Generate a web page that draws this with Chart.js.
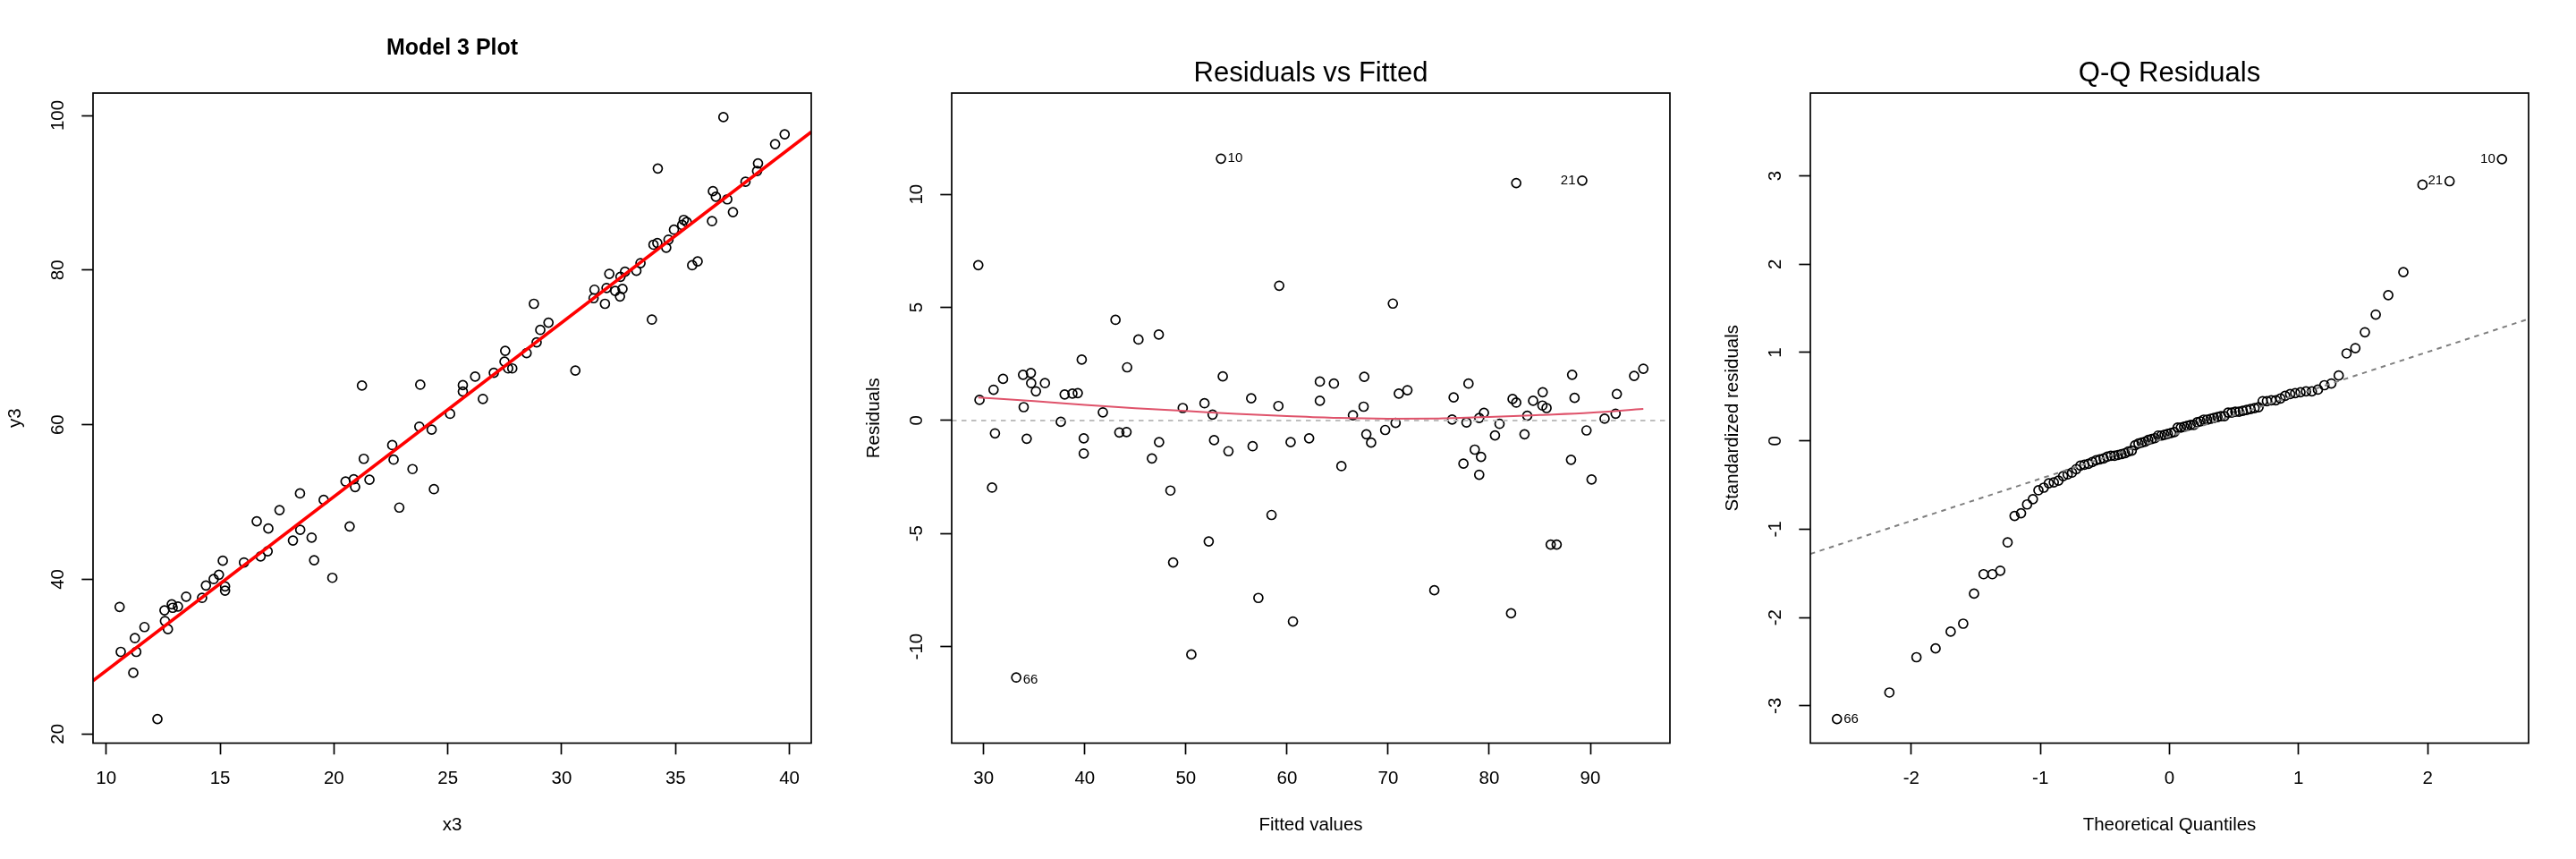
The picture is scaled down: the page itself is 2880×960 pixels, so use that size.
<!DOCTYPE html>
<html>
<head>
<meta charset="utf-8">
<title>Model 3 diagnostics</title>
<script src="https://cdn.jsdelivr.net/npm/chart.js@4.4.1/dist/chart.umd.min.js"></script>
<style>
  html, body { margin: 0; padding: 0; background: #fff; }
  #wrap { display: flex; width: 2880px; height: 960px; }
  canvas { display: block; }
</style>
</head>
<body>
<div id="wrap">
  <canvas id="fitPlot" width="960" height="960"></canvas>
  <canvas id="residPlot" width="960" height="960"></canvas>
  <canvas id="qqPlot" width="960" height="960"></canvas>
</div>
<script>
// ---- panel 1: x3 vs y3 (sorted by x3)
const x3 = [10.59, 10.64, 11.19, 11.26, 11.32, 11.68, 12.25, 12.56, 12.58, 12.71,
  12.88, 12.92, 13.15, 13.51, 14.21, 14.38, 14.72, 14.95, 15.12, 15.22,
  15.22, 16.05, 16.61, 16.78, 17.09, 17.12, 17.61, 18.20, 18.51, 18.52,
  19.02, 19.13, 19.55, 19.93, 20.51, 20.69, 20.87, 20.93, 21.23, 21.31,
  21.56, 22.56, 22.62, 22.87, 23.45, 23.75, 23.79, 24.29, 24.39, 25.10,
  25.66, 25.66, 26.20, 26.54, 27.02, 27.52, 27.49, 27.65, 27.83, 28.46,
  28.78, 28.90, 29.06, 29.42, 30.60, 31.40, 31.44, 31.90, 31.97, 32.09,
  32.35, 32.56, 32.67, 32.58, 32.78, 33.28, 33.46, 33.96, 34.03, 34.20,
  34.22, 34.59, 34.69, 34.93, 35.29, 35.36, 35.49, 35.73, 35.97, 36.60,
  36.64, 36.77, 37.10, 37.27, 37.52, 38.07, 38.58, 38.62, 39.37, 39.79];
const y3 = [36.43, 30.62, 27.91, 32.39, 30.62, 33.83, 21.93, 35.99, 34.61, 33.55,
  36.77, 36.32, 36.49, 37.76, 37.60, 39.20, 40.03, 40.59, 42.41, 39.09,
  38.54, 42.19, 47.51, 42.97, 43.63, 46.57, 48.95, 45.02, 51.11, 46.40,
  45.40, 42.47, 50.28, 40.20, 52.66, 46.84, 52.94, 51.94, 65.06, 55.59,
  52.88, 57.36, 55.48, 49.28, 54.26, 59.75, 65.17, 59.36, 51.66, 61.41,
  64.29, 65.12, 66.22, 63.34, 66.72, 69.55, 68.16, 67.28, 67.28, 69.27,
  75.64, 70.65, 72.26, 73.20, 67.00, 76.36, 77.46, 75.64, 77.69, 79.51,
  77.30, 76.58, 77.57, 79.13, 79.79, 79.90, 80.90, 73.59, 83.28, 83.50,
  93.13, 82.89, 83.94, 85.22, 85.83, 86.49, 86.21, 80.62, 81.12, 86.32,
  90.20, 89.48, 99.78, 89.15, 87.49, 91.42, 92.80, 93.80, 96.29, 97.56];
const fitXTicks = [10, 15, 20, 25, 30, 35, 40];
const fitYTicks = [20, 40, 60, 80, 100];

// ---- panel 2: residuals vs fitted
const fitted = [29.47, 29.59, 30.83, 30.98, 31.12, 31.92, 33.22, 33.90, 33.96, 34.26,
  34.67, 34.70, 35.17, 36.06, 37.63, 38.01, 38.78, 39.31, 39.70, 39.90,
  39.90, 41.79, 43.04, 43.42, 44.13, 44.19, 45.31, 46.64, 47.32, 47.35,
  48.47, 48.74, 49.69, 50.54, 51.84, 52.26, 52.64, 52.79, 53.47, 53.65,
  54.21, 56.46, 56.60, 57.17, 58.47, 59.15, 59.23, 60.36, 60.59, 62.19,
  63.25, 63.25, 64.64, 65.38, 66.52, 67.58, 67.64, 67.85, 68.32, 69.71,
  70.47, 70.74, 71.06, 71.91, 74.57, 76.33, 76.48, 77.45, 77.75, 77.95,
  78.57, 79.01, 79.01, 79.19, 79.48, 80.57, 81.02, 82.16, 82.31, 82.67,
  82.67, 83.49, 83.76, 84.34, 85.29, 85.26, 85.67, 86.08, 86.67, 88.09,
  88.20, 88.44, 89.20, 89.62, 90.12, 91.41, 92.50, 92.62, 94.33, 95.24];
const resid = [6.87, 0.91, -2.97, 1.36, -0.57, 1.84, -11.37, 2.02, 0.59, -0.81,
  2.10, 1.65, 1.29, 1.65, -0.06, 1.15, 1.19, 1.21, 2.69, -0.79,
  -1.46, 0.36, 4.45, -0.53, -0.51, 2.35, 3.58, -1.68, 3.80, -0.96,
  -3.10, -6.28, 0.55, -10.35, 0.76, -5.35, 0.26, -0.87, 11.58, 1.95,
  -1.36, 0.98, -1.14, -7.85, -4.18, 0.64, 5.96, -0.96, -8.89, -0.79,
  0.87, 1.72, 1.63, -2.02, 0.23, 0.61, 1.93, -0.61, -0.98, -0.42,
  5.17, -0.11, 1.19, 1.34, -7.51, 0.04, 1.02, -1.91, -0.09, 1.63,
  -1.29, 0.11, -2.40, -1.61, 0.34, -0.66, -0.15, -8.53, 0.95, 10.50,
  0.79, -0.61, 0.21, 0.87, 1.25, 0.66, 0.55, -5.49, -5.49, -1.74,
  2.02, 1.00, 10.61, -0.44, -2.61, 0.08, 0.30, 1.17, 1.97, 2.29];
const smoothX = [29.47, 35, 40, 45, 50, 55, 60, 65, 70, 75, 80, 85, 90, 95.24];
const smoothY = [1.02, 0.86, 0.69, 0.54, 0.42, 0.29, 0.19, 0.11, 0.08, 0.09, 0.15, 0.24, 0.34, 0.51];
const residXTicks = [30, 40, 50, 60, 70, 80, 90];
const residYTicks = [-10, -5, 0, 5, 10];

// ---- panel 3: normal Q-Q of standardized residuals
const qqX = [-2.576, -2.170, -1.960, -1.812, -1.695, -1.598, -1.514, -1.440, -1.372, -1.311,
  -1.254, -1.200, -1.150, -1.103, -1.058, -1.015, -0.974, -0.935, -0.896, -0.860,
  -0.824, -0.789, -0.755, -0.722, -0.690, -0.659, -0.628, -0.598, -0.568, -0.539,
  -0.510, -0.482, -0.454, -0.426, -0.399, -0.372, -0.345, -0.319, -0.292, -0.266,
  -0.240, -0.215, -0.189, -0.164, -0.138, -0.113, -0.088, -0.063, -0.038, -0.013,
  0.013, 0.038, 0.063, 0.088, 0.113, 0.138, 0.164, 0.189, 0.215, 0.240,
  0.266, 0.292, 0.319, 0.345, 0.372, 0.399, 0.426, 0.454, 0.482, 0.510,
  0.539, 0.568, 0.598, 0.628, 0.659, 0.690, 0.722, 0.755, 0.789, 0.824,
  0.860, 0.896, 0.935, 0.974, 1.015, 1.058, 1.103, 1.150, 1.200, 1.254,
  1.311, 1.372, 1.440, 1.514, 1.598, 1.695, 1.812, 1.960, 2.170, 2.576];
const qqY = [-3.15, -2.85, -2.45, -2.35, -2.16, -2.07, -1.73, -1.51, -1.51, -1.47,
  -1.15, -0.85, -0.82, -0.72, -0.66, -0.56, -0.53, -0.48, -0.47, -0.45,
  -0.40, -0.38, -0.36, -0.32, -0.28, -0.27, -0.26, -0.24, -0.22, -0.21,
  -0.20, -0.18, -0.17, -0.17, -0.16, -0.15, -0.14, -0.12, -0.11, -0.05,
  -0.03, -0.02, -0.01, 0.01, 0.02, 0.03, 0.06, 0.06, 0.07, 0.08,
  0.09, 0.10, 0.15, 0.15, 0.16, 0.17, 0.18, 0.18, 0.21, 0.22,
  0.24, 0.24, 0.25, 0.26, 0.27, 0.28, 0.28, 0.32, 0.32, 0.33,
  0.33, 0.34, 0.35, 0.36, 0.37, 0.38, 0.45, 0.45, 0.46, 0.46,
  0.48, 0.51, 0.53, 0.54, 0.55, 0.56, 0.56, 0.58, 0.63, 0.65,
  0.74, 0.99, 1.05, 1.23, 1.43, 1.65, 1.91, 2.90, 2.94, 3.19];
const qqXTicks = [-2, -1, 0, 1, 2];
const qqYTicks = [-3, -2, -1, 0, 1, 2, 3];
const zQuart = 0.6745; // normal quartile used by qqline

Chart.defaults.font.family = '"Liberation Sans", Arial, Helvetica, sans-serif';
Chart.defaults.color = '#000';

// R pads every axis range by 4%
function padRange(lo, hi, f) {
  const d = (hi - lo) * f;
  return [lo - d, hi + d];
}
function dataRange(vals, f) {
  return padRange(Math.min(...vals), Math.max(...vals), f);
}
function pairs(xs, ys) {
  return xs.map((v, i) => ({ x: v, y: ys[i] }));
}
function quantile7(vals, p) {
  const s = vals.slice().sort((a, b) => a - b);
  const h = (s.length - 1) * p, lo = Math.floor(h);
  return s[lo] + (h - lo) * ((s[Math.min(lo + 1, s.length - 1)]) - s[lo]);
}
function lineAcross(xr, a, b) {
  return [{ x: xr[0], y: a + b * xr[0] }, { x: xr[1], y: a + b * xr[1] }];
}

// box, rotated y tick labels and the point id labels
const rFrame = {
  id: 'rFrame',
  afterDatasetsDraw(chart, args, opts) {
    const { ctx, chartArea: a, scales } = chart;
    ctx.save();
    ctx.strokeStyle = '#000';
    ctx.lineWidth = 1.7;
    ctx.strokeRect(a.left, a.top, a.right - a.left, a.bottom - a.top);

    ctx.fillStyle = '#000';
    ctx.font = '20.5px "Liberation Sans", Arial, sans-serif';
    ctx.textAlign = 'center';
    ctx.textBaseline = 'middle';
    scales.y.ticks.forEach(t => {
      ctx.save();
      ctx.translate(a.left - 38.5, scales.y.getPixelForValue(t.value));
      ctx.rotate(-Math.PI / 2);
      ctx.fillText(String(t.value), 0, 0);
      ctx.restore();
    });

    ctx.font = '15px "Liberation Sans", Arial, sans-serif';
    (opts.ids || []).forEach(id => {
      const pt = chart.data.datasets[0].data[id.i];
      const px = scales.x.getPixelForValue(pt.x);
      const py = scales.y.getPixelForValue(pt.y);
      ctx.textAlign = id.pos === 4 ? 'left' : 'right';
      ctx.fillText(id.text, id.pos === 4 ? px + 7.5 : px - 7.5, py + (id.dy || 0));
    });
    ctx.restore();
  }
};

function pointSet(data) {
  return {
    data: data, order: 2, showLine: false,
    pointStyle: 'circle', pointRadius: 5, pointBorderWidth: 1.7,
    pointBorderColor: '#000', pointBackgroundColor: 'rgba(0,0,0,0)'
  };
}

function rChart(id, o) {
  const tickGrid = {
    display: true, drawOnChartArea: false, drawTicks: true,
    tickLength: 12.7, tickColor: '#000', tickWidth: 1.7, color: '#000'
  };
  return new Chart(document.getElementById(id), {
    type: 'scatter',
    data: { datasets: o.datasets },
    options: {
      responsive: false,
      animation: false,
      devicePixelRatio: 1,
      events: [],
      layout: { padding: { top: 0, right: 53, bottom: 0, left: 0 } },
      plugins: {
        legend: { display: false },
        tooltip: { enabled: false },
        title: {
          display: true, text: o.title, fullSize: false, color: '#000',
          font: o.titleFont, padding: o.titlePad
        },
        rFrame: { ids: o.ids || [] }
      },
      scales: {
        x: {
          type: 'linear', min: o.xr[0], max: o.xr[1],
          afterBuildTicks: s => { s.ticks = o.xTicks.map(v => ({ value: v })); },
          afterFit: s => { s.height = 129.5; },
          grid: tickGrid,
          border: { display: false },
          ticks: {
            color: '#000', font: { size: 20.5 }, padding: 14.9,
            autoSkip: false, maxRotation: 0, callback: v => String(v)
          },
          title: {
            display: true, text: o.xLab, color: '#000',
            font: { size: 20.5 }, padding: { top: 0, bottom: 25.7 }
          }
        },
        y: {
          type: 'linear', min: o.yr[0], max: o.yr[1],
          afterBuildTicks: s => { s.ticks = o.yTicks.map(v => ({ value: v })); },
          afterFit: s => { s.width = 104; },
          grid: tickGrid,
          border: { display: false },
          ticks: { display: false },
          title: {
            display: true, text: o.yLab, color: '#000',
            font: { size: 20.5 }, padding: { top: 4.7, bottom: 0 }
          }
        }
      }
    },
    plugins: [rFrame]
  });
}

// panel 1 -- scatter with least squares line
const fitXr = dataRange(x3, 0.04);
const fitYr = dataRange(y3, 0.04);
const mx = x3.reduce((s, v) => s + v, 0) / x3.length;
const my = y3.reduce((s, v) => s + v, 0) / y3.length;
let sxy = 0, sxx = 0;
x3.forEach((v, i) => { sxy += (v - mx) * (y3[i] - my); sxx += (v - mx) * (v - mx); });
const slope = sxy / sxx;
const intercept = my - slope * mx;

rChart('fitPlot', {
  title: 'Model 3 Plot',
  titleFont: { size: 25, weight: 'bold' },
  titlePad: { top: 39, bottom: 35 },
  xLab: 'x3', yLab: 'y3',
  xr: fitXr, yr: fitYr, xTicks: fitXTicks, yTicks: fitYTicks,
  datasets: [
    pointSet(pairs(x3, y3)),
    { data: lineAcross(fitXr, intercept, slope), showLine: true, order: 1,
      borderColor: '#ff0000', borderWidth: 3.6, pointRadius: 0 }
  ]
});

// panel 2 -- residuals vs fitted
const residXr = dataRange(fitted, 0.04);
const rLim = dataRange(resid, 0.08);
const residYr = padRange(rLim[0], rLim[1], 0.04);

rChart('residPlot', {
  title: 'Residuals vs Fitted',
  titleFont: { size: 31, weight: 'normal' },
  titlePad: { top: 63.4, bottom: 3.4 },
  xLab: 'Fitted values', yLab: 'Residuals',
  xr: residXr, yr: residYr, xTicks: residXTicks, yTicks: residYTicks,
  ids: [{ i: 38, text: '10', pos: 4 }, { i: 6, text: '66', pos: 4, dy: 3 }, { i: 92, text: '21', pos: 2 }],
  datasets: [
    pointSet(pairs(fitted, resid)),
    { data: lineAcross(residXr, 0, 0), showLine: true, order: 1,
      borderColor: '#bebebe', borderWidth: 2, borderDash: [5.5, 5.5], pointRadius: 0 },
    { data: pairs(smoothX, smoothY), showLine: true, order: 0,
      borderColor: '#df536b', borderWidth: 2, pointRadius: 0, cubicInterpolationMode: 'monotone' }
  ]
});

// panel 3 -- normal Q-Q
const qqXr = dataRange(qqX, 0.04);
const qqLo = Math.min(...qqY), qqHi = Math.max(...qqY);
const qqYr = padRange(qqLo, qqHi + (qqHi - qqLo) * 0.075, 0.04);
const q1 = quantile7(qqY, 0.25), q3 = quantile7(qqY, 0.75);
const qqSlope = (q3 - q1) / (2 * zQuart);
const qqInt = q1 + qqSlope * zQuart;

rChart('qqPlot', {
  title: 'Q-Q Residuals',
  titleFont: { size: 31, weight: 'normal' },
  titlePad: { top: 63.4, bottom: 3.4 },
  xLab: 'Theoretical Quantiles', yLab: 'Standardized residuals',
  xr: qqXr, yr: qqYr, xTicks: qqXTicks, yTicks: qqYTicks,
  ids: [{ i: 0, text: '66', pos: 4 }, { i: 98, text: '21', pos: 2, dy: -1 }, { i: 99, text: '10', pos: 2 }],
  datasets: [
    pointSet(pairs(qqX, qqY)),
    { data: lineAcross(qqXr, qqInt, qqSlope), showLine: true, order: 1,
      borderColor: '#7f7f7f', borderWidth: 2, borderDash: [5.5, 5.5], pointRadius: 0 }
  ]
});
</script>
</body>
</html>
